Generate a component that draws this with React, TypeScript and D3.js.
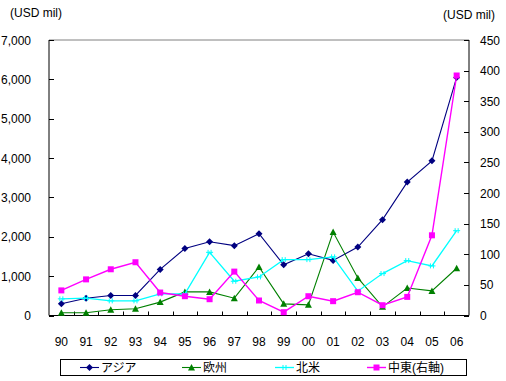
import React from "react";
import * as d3 from "d3";

const years = ["90","91","92","93","94","95","96","97","98","99","00","01","02","03","04","05","06"];
const asia = [300,440,510,510,1170,1700,1875,1775,2080,1290,1570,1400,1740,2435,3390,3930,6050];
const europe = [68,68,145,170,340,600,600,440,1235,296,270,2120,955,220,700,625,1200];
const northAmerica = [423,440,372,372,550,550,1605,870,980,1420,1420,1490,617,1065,1395,1260,2155];
const middleEast = [41,59,75.5,87,37.5,31.5,26.6,71.7,24.5,5.4,31.5,23.4,38,16.8,30.4,131,392];
const leftTicks = [0,1000,2000,3000,4000,5000,6000,7000];
const rightTicks = [0,50,100,150,200,250,300,350,400,450];
const seriesNames = ["アジア","欧州","北米","中東(右軸)"];

const W = 506, H = 381;
const L = 49, R = 469, T = 40, B = 315.5;
const FONT = "'Liberation Sans', Arial, 'Noto Sans CJK JP', sans-serif";

function Marker({ kind, x, y, color }: { kind: string; x: number; y: number; color: string }) {
  if (kind === "diamond") {
    return <path d={`M${x},${y - 3.5}L${x + 3.5},${y}L${x},${y + 3.5}L${x - 3.5},${y}Z`} fill={color} />;
  }
  if (kind === "triangle") {
    return <path d={`M${x},${y - 3.5}L${x + 3.5},${y + 3}L${x - 3.5},${y + 3}Z`} fill={color} />;
  }
  if (kind === "square") {
    return <rect x={x - 3} y={y - 3} width={6} height={6} fill={color} />;
  }
  return (
    <g stroke={color} strokeWidth={1}>
      <line x1={x - 3.5} y1={y} x2={x + 3.5} y2={y} />
      <line x1={x - 1.5} y1={y - 2.5} x2={x - 1.5} y2={y + 2.5} />
      <line x1={x + 1.5} y1={y - 2.5} x2={x + 1.5} y2={y + 2.5} />
    </g>
  );
}

export default function App() {
  const x = d3.scaleBand<string>().domain(years).range([L, R]);
  const yL = d3.scaleLinear().domain([0, 7000]).range([B, T]);
  const yR = d3.scaleLinear().domain([0, 450]).range([B, T]);
  const cx = (d: string) => (x(d) as number) + x.bandwidth() / 2;

  const series = [
    { name: seriesNames[0], data: asia, scale: yL, color: "#000080", kind: "diamond", sw: 1.1 },
    { name: seriesNames[1], data: europe, scale: yL, color: "#008000", kind: "triangle", sw: 1.1 },
    { name: seriesNames[2], data: northAmerica, scale: yL, color: "#00FFFF", kind: "star", sw: 1.3 },
    { name: seriesNames[3], data: middleEast, scale: yR, color: "#FF00FF", kind: "square", sw: 1.4 },
  ];

  const legendX = [80, 182, 275, 367];

  return (
    <svg width={W} height={H} style={{ position: "absolute", left: 0, top: 0, background: "#fff" }} fontFamily={FONT}>
      <rect width={W} height={H} fill="#fff" />
      <text x={10} y={17} fontSize={12}>(USD mil)</text>
      <text x={443} y={19} fontSize={12}>(USD mil)</text>

      <line x1={L} y1={T} x2={R} y2={T} stroke="#808080" />
      <line x1={L} y1={T} x2={L} y2={B} stroke="#000" />
      <line x1={R} y1={T} x2={R} y2={B} stroke="#000" />
      <line x1={L} y1={B} x2={R} y2={B} stroke="#000" />

      {leftTicks.map((t) => (
        <g key={"l" + t}>
          <line x1={L} x2={L + 5} y1={Math.round(yL(t)) + 0.5} y2={Math.round(yL(t)) + 0.5} stroke="#000" />
          <text x={31} y={yL(t) + 4.5} fontSize={12} textAnchor="end">{d3.format(",")(t)}</text>
        </g>
      ))}
      {rightTicks.map((t) => (
        <g key={"r" + t}>
          <line x1={R - 5} x2={R} y1={Math.round(yR(t)) + 0.5} y2={Math.round(yR(t)) + 0.5} stroke="#000" />
          <text x={480} y={yR(t) + 4.5} fontSize={12}>{t}</text>
        </g>
      ))}
      {years.map((yv, i) => (
        <g key={"x" + yv}>
          {i > 0 && (
            <line x1={Math.round(x(yv) as number) + 0.5} x2={Math.round(x(yv) as number) + 0.5} y1={B - 4} y2={B} stroke="#000" />
          )}
          <text x={cx(yv)} y={346} fontSize={12} textAnchor="middle">{yv}</text>
        </g>
      ))}

      {series.map((s) => {
        const line = d3.line<number>().x((_, i) => cx(years[i])).y((d) => s.scale(d));
        return (
          <g key={s.name}>
            <path d={line(s.data) || ""} fill="none" stroke={s.color} strokeWidth={s.sw} />
            {s.data.map((d, i) => (
              <Marker key={i} kind={s.kind} x={cx(years[i])} y={s.scale(d)} color={s.color} />
            ))}
          </g>
        );
      })}

      <rect x={60.5} y={359.5} width={406} height={16} fill="#fff" stroke="#000" />
      {series.map((s, i) => (
        <g key={"lg" + i}>
          <line x1={legendX[i]} x2={legendX[i] + 19} y1={367.5} y2={367.5} stroke={s.color} strokeWidth={s.sw} />
          <Marker kind={s.kind} x={legendX[i] + 9.5} y={367.5} color={s.color} />
          <text x={legendX[i] + 21} y={372} fontSize={12}>{s.name}</text>
        </g>
      ))}
    </svg>
  );
}
